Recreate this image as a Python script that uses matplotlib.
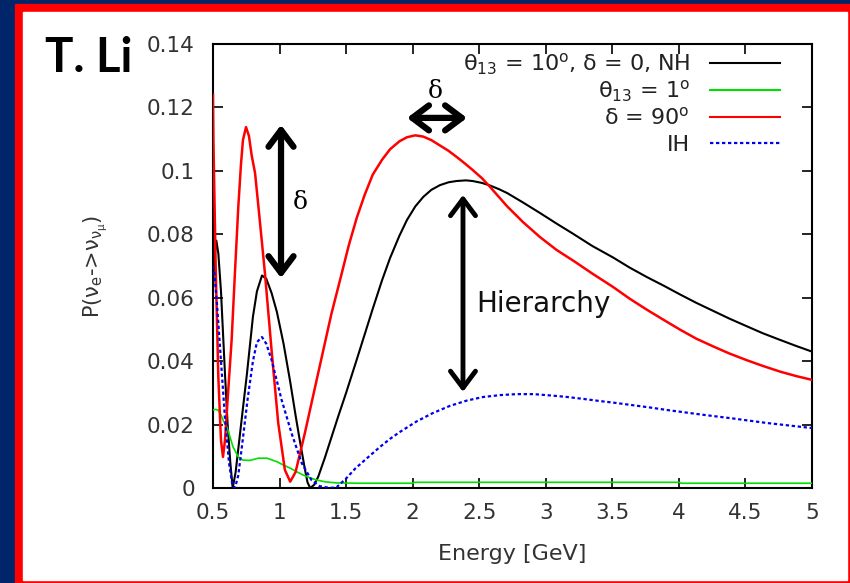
import matplotlib
matplotlib.use("Agg")
import matplotlib.pyplot as plt
from matplotlib.patches import Rectangle

# values (energy in GeV, probability)
e_nh = [0.50, 0.51, 0.525, 0.54, 0.56, 0.59, 0.61, 0.63, 0.648, 0.67, 0.70, 0.73,
        0.755, 0.78, 0.80, 0.83, 0.868, 0.90, 0.94, 0.98, 1.03, 1.08, 1.12, 1.15,
        1.19, 1.21, 1.23, 1.26, 1.29, 1.34, 1.39, 1.44, 1.50, 1.58, 1.64, 1.70, 1.77,
        1.83, 1.90, 1.957, 2.02, 2.08, 2.14, 2.205, 2.27, 2.33, 2.40, 2.45, 2.52,
        2.58, 2.65, 2.71, 2.83, 2.957, 3.08, 3.20, 3.35, 3.505, 3.63, 3.76, 3.89,
        4.01, 4.13, 4.26, 4.38, 4.51, 4.63, 4.76, 4.88, 5.00]
p_nh = [0.062, 0.072, 0.078, 0.074, 0.062, 0.036, 0.020, 0.008, 0.0, 0.005, 0.016, 0.027,
        0.036, 0.046, 0.054, 0.062, 0.067, 0.066, 0.0615, 0.0555, 0.0455, 0.0335, 0.023, 0.0155,
        0.006, 0.0018, 0.0, 0.001, 0.0035, 0.0095, 0.016, 0.0225, 0.030, 0.0405, 0.0485, 0.0565, 0.0655,
        0.0725, 0.0795, 0.0845, 0.0888, 0.0918, 0.094, 0.0955, 0.0964, 0.0968, 0.097, 0.0968, 0.0962,
        0.0954, 0.0942, 0.093, 0.0900, 0.0867, 0.0834, 0.0803, 0.0763, 0.0727, 0.0695, 0.0665, 0.0637,
        0.0610, 0.0584, 0.0558, 0.0534, 0.0510, 0.0488, 0.0467, 0.0448, 0.0430]

e_small = [0.50, 0.52, 0.54, 0.56, 0.58, 0.605, 0.63, 0.65, 0.69, 0.725, 0.778, 0.84,
           0.905, 0.98, 1.03, 1.078, 1.13, 1.176, 1.23, 1.28, 1.35, 1.43, 1.60, 2.00,
           2.01, 4.00, 4.02, 5.00]
p_small = [0.0246, 0.0248, 0.0245, 0.023, 0.021, 0.0192, 0.0158, 0.013, 0.0098, 0.0088, 0.0087, 0.0094,
           0.0094, 0.0083, 0.0072, 0.0063, 0.0051, 0.0041, 0.0032, 0.0025, 0.0019, 0.0016, 0.0015, 0.0015,
           0.0018, 0.0018, 0.0015, 0.0015]

e_d90 = [0.50, 0.503, 0.52, 0.54, 0.56, 0.575, 0.59, 0.61, 0.64, 0.665, 0.69, 0.71,
         0.725, 0.748, 0.77, 0.79, 0.816, 0.85, 0.89, 0.94, 0.99, 1.04, 1.08, 1.12,
         1.19, 1.29, 1.39, 1.454, 1.52, 1.58, 1.64, 1.70, 1.77, 1.83, 1.90, 1.957,
         2.02, 2.08, 2.14, 2.205, 2.27, 2.33, 2.39, 2.45, 2.52, 2.58, 2.71, 2.83,
         2.957, 3.08, 3.22, 3.35, 3.505, 3.63, 3.76, 3.89, 4.01, 4.13, 4.26, 4.38,
         4.51, 4.63, 4.76, 4.88, 5.00]
p_d90 = [0.124, 0.11, 0.07, 0.035, 0.015, 0.0098, 0.015, 0.028, 0.0467, 0.068, 0.0886, 0.102,
         0.1097, 0.1138, 0.111, 0.105, 0.0993, 0.085, 0.0678, 0.0435, 0.0205, 0.0057, 0.002, 0.005,
         0.0173, 0.0362, 0.055, 0.0655, 0.0765, 0.0852, 0.0925, 0.0988, 0.1035, 0.1068, 0.1093, 0.1106,
         0.1112, 0.1108, 0.1097, 0.108, 0.1063, 0.1044, 0.1024, 0.1003, 0.0977, 0.0950, 0.0888, 0.0838,
         0.0791, 0.0751, 0.0713, 0.0676, 0.0634, 0.0597, 0.0562, 0.0529, 0.0499, 0.0471, 0.0446, 0.0424,
         0.0403, 0.0385, 0.0367, 0.0353, 0.0341]

e_ih = [0.50, 0.51, 0.53, 0.56, 0.59, 0.62, 0.645, 0.665, 0.69, 0.72, 0.76, 0.80,
        0.83, 0.868, 0.90, 0.94, 1.016, 1.09, 1.166, 1.24, 1.30, 1.38, 1.43, 1.50,
        1.57, 1.657, 1.75, 1.83, 1.905, 2.03, 2.15, 2.28, 2.41, 2.53, 2.66, 2.78,
        2.91, 3.03, 3.16, 3.28, 3.41, 3.53, 3.655, 3.78, 3.91, 4.16, 4.41, 4.66, 5.00]
p_ih = [0.070, 0.068, 0.058, 0.040, 0.022, 0.008, 0.001, 0.0, 0.004, 0.014, 0.028, 0.040,
        0.046, 0.0476, 0.0455, 0.0404, 0.0277, 0.0173, 0.0079, 0.0025, 0.0006, 0.0, 0.0003, 0.003,
        0.0062, 0.0094, 0.0128, 0.0155, 0.0177, 0.0210, 0.0236, 0.0259, 0.0276, 0.0287, 0.0293, 0.0296,
        0.0296, 0.0292, 0.0287, 0.0281, 0.0274, 0.0268, 0.0261, 0.0254, 0.0246, 0.0232, 0.0219, 0.0205,
        0.0189]

labels = ["θ$_{13}$ = 10$^{\\rm o}$, δ = 0, NH",
          "θ$_{13}$ = 1$^{\\rm o}$",
          "δ = 90$^{\\rm o}$",
          "IH"]
colors = ["black", "#00e000", "#ff0000", "#0000ee"]

x_ticks = [0.5, 1, 1.5, 2, 2.5, 3, 3.5, 4, 4.5, 5]
x_tick_labels = ["0.5", "1", "1.5", "2", "2.5", "3", "3.5", "4", "4.5", "5"]
y_ticks = [0, 0.02, 0.04, 0.06, 0.08, 0.1, 0.12, 0.14]
y_tick_labels = ["0", "0.02", "0.04", "0.06", "0.08", "0.1", "0.12", "0.14"]

plt.rcParams["mathtext.fontset"] = "dejavusans"
plt.rcParams["mathtext.default"] = "regular"

fig = plt.figure(figsize=(8.5, 5.83), dpi=100, facecolor="#00256a")
# slide frame: red border, white inside
fig.patches.append(Rectangle((15 / 850, 0), 1 - 15 / 850, 579 / 583,
                             transform=fig.transFigure, color="#ff0000", zorder=-2))
fig.patches.append(Rectangle((23 / 850, 3 / 583), 824 / 850, 568 / 583,
                             transform=fig.transFigure, color="white", zorder=-1))

ax = fig.add_axes([213 / 850, 1 - 488 / 583, 599 / 850, 444 / 583])
ax.set_facecolor("white")

dotted = (0, (1.5, 1.2))
ax.plot(e_nh, p_nh, color=colors[0], lw=1.5, zorder=3)
ax.plot(e_small, p_small, color=colors[1], lw=1.2, zorder=3)
ax.plot(e_d90, p_d90, color=colors[2], lw=1.8, zorder=3)
ax.plot(e_ih, p_ih, color=colors[3], lw=1.6, ls=dotted, zorder=4)

ax.set_xlim(0.5, 5)
ax.set_ylim(0, 0.14)
ax.set_xticks(x_ticks)
ax.set_xticklabels(x_tick_labels)
ax.set_yticks(y_ticks)
ax.set_yticklabels(y_tick_labels)
ax.tick_params(direction="in", length=7, width=1.2, top=True, right=True,
               labelsize=15.5, labelcolor="#333333")
ax.tick_params(axis="y", pad=13)
ax.tick_params(axis="x", pad=11)
for s in ax.spines.values():
    s.set_linewidth(1.5)

ax.set_xlabel("Energy [GeV]", fontsize=16, color="#333333")
ax.xaxis.set_label_coords(0.5, -0.127)
ax.set_ylabel("P(ν$_{\\rm e}$->ν$_{ν_{μ}}$)", fontsize=15, color="#333333")
ax.yaxis.set_label_coords(-0.172, 0.5)

# legend drawn by hand, text right aligned before the line samples
rows = [0.957, 0.896, 0.836, 0.777]
for k, (lab, col, yy) in enumerate(zip(labels, colors, rows)):
    ax.text((690 - 213) / 599, yy - 0.017, lab, transform=ax.transAxes,
            ha="right", va="baseline", fontsize=16, color="#222222")
    ax.plot([(710 - 213) / 599, (780 - 213) / 599], [yy, yy], transform=ax.transAxes,
            color=col, lw=1.6 if k == 3 else 1.5, ls=dotted if k == 3 else "-",
            clip_on=False)

# annotations
arrow = dict(arrowstyle="<->,head_length=0.6,head_width=0.45", lw=4.5, color="black",
             mutation_scale=20, shrinkA=0, shrinkB=0)
ax.annotate("", xy=(1.011, 0.1145), xytext=(1.011, 0.0662), arrowprops=arrow)
ax.text(1.154, 0.0899, "δ", fontsize=18, family="DejaVu Serif", ha="center", va="center")
ax.annotate("", xy=(1.958, 0.1167), xytext=(2.408, 0.1167), arrowprops=arrow)
ax.text(2.168, 0.1250, "δ", fontsize=18, family="DejaVu Serif", ha="center", va="center")
arrow_h = dict(arrow, lw=3.5)
ax.annotate("", xy=(2.378, 0.0924), xytext=(2.378, 0.0303), arrowprops=arrow_h)
ax.text(2.476, 0.058, "Hierarchy", fontsize=20, ha="left", va="center", color="#111111")

fig.text(45 / 850, 1 - 72 / 583, "T. Li", fontsize=34, fontweight="bold",
         family=["Lato", "Liberation Sans"], ha="left", va="baseline")

fig.savefig("out.png", dpi=100, facecolor=fig.get_facecolor())
